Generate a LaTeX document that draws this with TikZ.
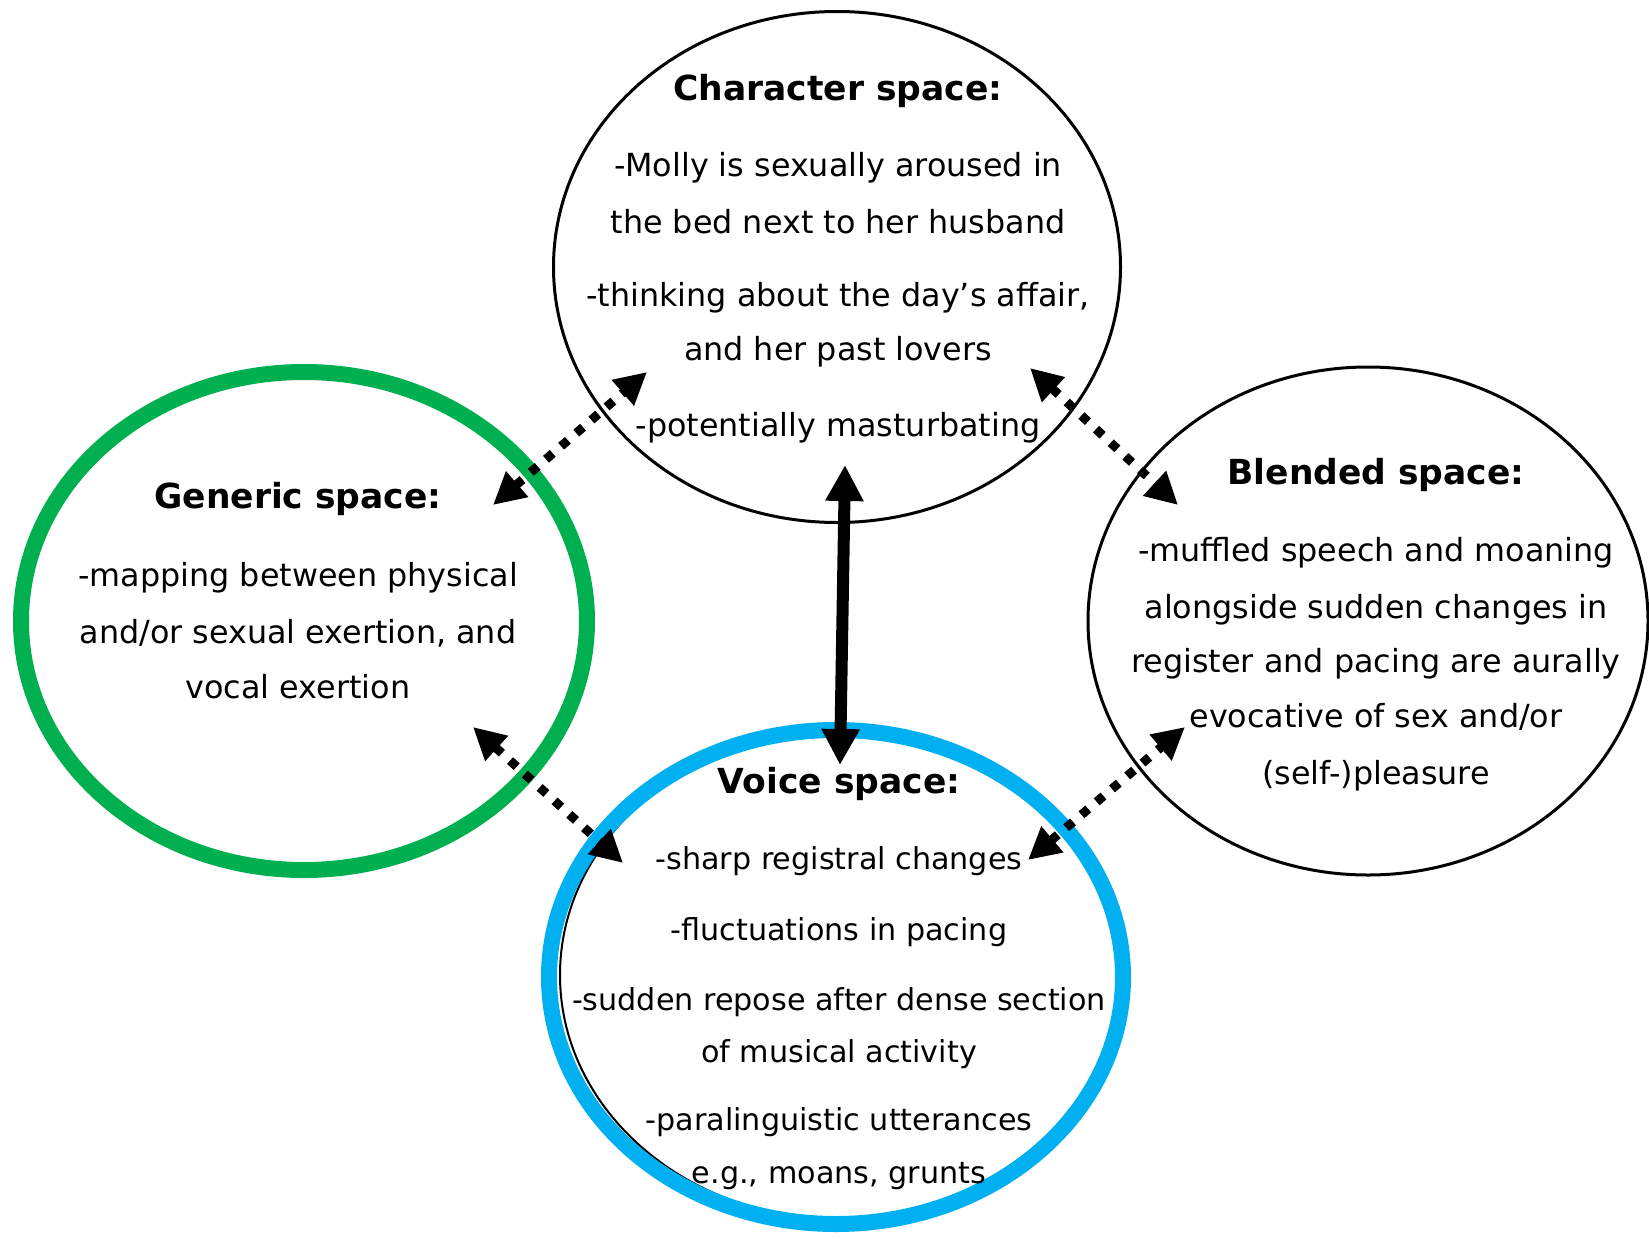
\documentclass[tikz,border=0pt]{standalone}
\usepackage{fontspec}
\setmainfont{DejaVu Sans}
\usetikzlibrary{arrows.meta,shapes.geometric}
\definecolor{gengreen}{HTML}{00B050}
\definecolor{voiceblue}{HTML}{00B0F0}
\tikzset{
  space/.style={ellipse, inner sep=0pt, draw=black, line width=3pt},
  ring/.style={ellipse, inner sep=0pt, line width=16pt},
  title/.style={font=\bfseries\fontsize{34.5}{40}\selectfont, inner sep=0pt, text height=33pt, text depth=9pt},
  body/.style={font=\fontsize{31.8}{38}\selectfont, inner sep=0pt, text height=31pt, text depth=7pt},
  vbody/.style={body, font=\fontsize{30.2}{36}\selectfont},
  dotlink/.style={line width=9pt, dash pattern=on 9pt off 11pt, line cap=butt,
    {Triangle[length=32pt,width=32pt]}-{Triangle[length=32pt,width=32pt]}},
  solidlink/.style={line width=12pt,
    {Triangle[length=36pt,width=36pt]}-{Triangle[length=36pt,width=36pt]}},
}
\begin{document}
\begin{tikzpicture}[x=1pt,y=-1pt]
  \fill[white] (0,0) rectangle (1649,1239);
  \useasboundingbox (0,0) rectangle (1649,1239);

  % the four spaces
  \node[space, minimum width=567pt, minimum height=511pt] (char) at (837,267) {};
  \node[ring, draw=gengreen, minimum width=566pt, minimum height=498pt] (gen) at (304,621) {};
  \node[space, minimum width=560pt, minimum height=508pt] (blend) at (1368,621) {};
  \node[space, line width=2pt, minimum width=566pt, minimum height=490pt] (voiceline) at (843,975) {};
  \node[ring, draw=voiceblue, minimum width=574pt, minimum height=494pt] (voice) at (836,977) {};

  % character space
  \node[title] (chart) at (838,88) {Character space:};
  \node[body] (char1) at (838,164) {-Molly is sexually aroused in};
  \node[body] (char2) at (838,221) {the bed next to her husband};
  \node[body] (char3) at (838,294) {-thinking about the day’s affair,};
  \node[body] (char4) at (838,348) {and her past lovers};
  \node[body] (char5) at (838,424) {-potentially masturbating};

  % generic space
  \node[title] (gent) at (298,496) {Generic space:};
  \node[body] (gen1) at (298,574) {-mapping between physical};
  \node[body] (gen2) at (298,631) {and/or sexual exertion, and};
  \node[body] (gen3) at (298,686) {vocal exertion};

  % blended space
  \node[title] (blendt) at (1376,472) {Blended space:};
  \node[body] (blend1) at (1376,549) {-muffled speech and moaning};
  \node[body] (blend2) at (1376,606) {alongside sudden changes in};
  \node[body] (blend3) at (1376,660) {register and pacing are aurally};
  \node[body] (blend4) at (1376,715) {evocative of sex and/or};
  \node[body] (blend5) at (1376,772) {(self-)pleasure};

  % voice space
  \node[title] (voicet) at (839,781) {Voice space:};
  \node[vbody] (voice1) at (839,857) {-sharp registral changes};
  \node[vbody] (voice2) at (839,928) {-fluctuations in pacing};
  \node[vbody] (voice3) at (839,998) {-sudden repose after dense section};
  \node[vbody] (voice4) at (839,1050) {of musical activity};
  \node[vbody] (voice5) at (839,1118) {-paralinguistic utterances};
  \node[vbody] (voice6) at (839,1171) {e.g., moans, grunts};

  % arrow end points
  \coordinate (gc) at (493,505);  \coordinate (cg) at (647,372);
  \coordinate (cb) at (1030,368); \coordinate (bc) at (1178,505);
  \coordinate (gv) at (473,727);  \coordinate (vg) at (623,863);
  \coordinate (vb) at (1028,860); \coordinate (bv) at (1185,727);
  \coordinate (cv) at (845,465);  \coordinate (vc) at (840,765);

  % mappings between the spaces
  \draw[dotlink] (gc) -- (cg);
  \draw[dotlink] (cb) -- (bc);
  \draw[dotlink] (gv) -- (vg);
  \draw[dotlink] (vb) -- (bv);
  \draw[solidlink] (vc) -- (cv);
\end{tikzpicture}
\end{document}
